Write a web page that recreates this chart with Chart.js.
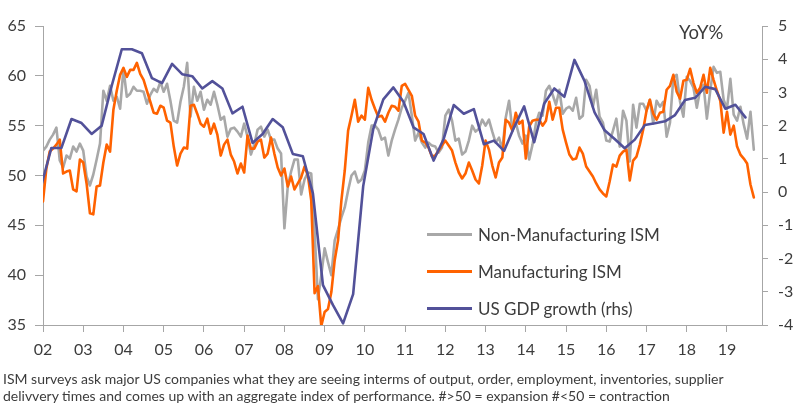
<!DOCTYPE html>
<html>
<head>
<meta charset="utf-8">
<script src="https://cdn.jsdelivr.net/npm/chart.js@4.4.0/dist/chart.umd.min.js"></script>
<style>
  html, body { margin: 0; padding: 0; background: #fff; }
  #wrap { position: relative; width: 800px; height: 414px; font-family: Lato, "Noto Sans", sans-serif; color: #3c3c3c; }
  #chart { position: absolute; left: 0; top: 0; }
  .leg { position: absolute; left: 427px; height: 24px; display: flex; align-items: center; font-size: 17px; white-space: nowrap; }
  .leg span.sw { display: inline-block; width: 45px; height: 3px; margin-right: 6px; }
  #yoy { position: absolute; left: 679px; top: 21px; font-size: 18.5px; }
  #note { position: absolute; left: 3px; top: 370px; font-size: 14px; line-height: 17px; white-space: nowrap; }
</style>
</head>
<body>
<div id="wrap">
  <canvas id="chart" width="800" height="414"></canvas>
  <div id="yoy">YoY%</div>
  <div class="leg" style="top:222px"><span class="sw" style="background:#a8a8a8"></span>Non-Manufacturing ISM</div>
  <div class="leg" style="top:259px"><span class="sw" style="background:#ff6200"></span>Manufacturing ISM</div>
  <div class="leg" style="top:296px"><span class="sw" style="background:#525199"></span>US GDP growth (rhs)</div>
  <div id="note">ISM surveys ask major US companies what they are seeing interms of output, order, employment, inventories, supplier<br>delivvery times and comes up with an aggregate index of performance. #&gt;50 = expansion #&lt;50 = contraction</div>
</div>
<script>
// x axis labels, one per year
const yearTicks = ['02', '03', '04', '05', '06', '07', '08', '09', '10',
  '11', '12', '13', '14', '15', '16', '17', '18', '19'];

// monthly ISM readings, Jan 2002 .. Sep 2019
const ismStartYear = 2002;

const nonMfgIsm = [
  52.5, 52.9, 53.6, 54.1, 54.8, 51.5, 50.8, 52.0, 51.7, 52.9, 52.4, 53.2,
  52.5, 49.9, 49.0, 50.1, 51.6, 53.2, 58.5, 57.5, 59.0, 57.5, 57.9, 56.7,
  60.7, 57.9, 58.2, 58.9, 58.5, 58.5, 58.4, 57.2, 58.1, 58.7, 58.4, 59.4,
  58.4, 59.2, 57.5, 55.5, 55.3, 57.4, 58.9, 61.3, 55.9, 58.9, 57.5, 58.4,
  56.6, 57.6, 57.1, 58.4, 57.1, 55.6, 55.9, 53.9, 54.7, 54.8, 54.4, 53.9,
  55.2, 53.9, 52.1, 53.1, 54.6, 54.9, 53.9, 54.6, 53.6, 53.6, 52.7, 52.2,
  44.7, 48.9, 50.4, 51.6, 51.6, 48.1, 49.6, 50.3, 50.2, 44.4, 37.6, 40.0,
  42.7, 41.3, 40.0, 43.5, 44.6, 45.8, 46.8, 48.5, 50.0, 50.4, 49.3, 49.6,
  50.5, 53.3, 55.0, 55.0, 54.6, 53.6, 53.8, 52.0, 53.5, 54.6, 55.6, 56.8,
  57.5, 58.3, 56.0, 53.5, 54.3, 53.3, 52.8, 53.3, 53.0, 52.9, 52.3, 52.8,
  56.0, 56.6, 55.5, 53.5, 53.7, 52.1, 52.4, 53.5, 55.0, 54.4, 54.7, 55.6,
  55.0, 55.6, 54.4, 53.3, 53.8, 52.6, 55.8, 57.5, 54.5, 55.3, 54.0, 53.2,
  54.0, 51.6, 53.1, 55.2, 56.3, 56.0, 58.5, 59.0, 58.1, 57.1, 58.6, 56.2,
  56.7, 56.9, 56.5, 57.8, 55.7, 56.0, 59.6, 59.0, 56.9, 58.6, 55.9, 55.3,
  53.5, 53.4, 54.5, 55.7, 52.9, 56.5, 55.5, 51.4, 57.1, 54.8, 57.2, 57.2,
  56.5, 57.6, 55.2, 57.5, 56.9, 57.4, 53.9, 55.3, 59.8, 60.1, 57.4, 55.9,
  59.9, 59.5, 58.8, 56.8, 58.6, 59.1, 55.7, 58.5, 60.9, 60.3, 60.4, 57.6,
  56.7, 59.7, 56.1, 55.5, 56.9, 55.1, 53.7, 56.4, 52.6
];

const mfgIsm = [
  47.4, 50.7, 52.4, 52.7, 53.1, 53.6, 50.2, 50.4, 50.5, 48.6, 48.4, 51.6,
  51.3, 49.2, 46.2, 46.1, 48.9, 49.0, 51.3, 53.1, 52.4, 56.6, 58.5, 60.1,
  60.8, 59.9, 60.6, 60.6, 61.3, 60.2, 59.6, 58.5, 57.4, 56.3, 56.2, 57.0,
  56.8, 55.5, 55.3, 52.9, 51.0, 52.2, 52.8, 52.7, 57.0, 57.1, 56.2, 55.2,
  54.9, 55.7, 54.2, 55.2, 54.1, 52.0, 53.1, 53.6, 52.1, 51.4, 50.2, 51.2,
  50.3, 54.0, 52.7, 52.7, 53.4, 53.6, 51.8, 52.2, 53.8, 52.2, 50.8, 50.0,
  50.7, 48.9, 49.9, 48.6, 49.2, 49.8, 50.9, 50.0, 47.5, 38.2, 38.9, 34.9,
  36.3, 36.6, 38.3, 41.5, 43.5, 47.5, 50.5, 54.5, 56.0, 57.6, 55.4, 56.0,
  55.6, 58.8, 57.6, 56.7, 55.9, 56.0, 55.4, 56.3, 57.0, 56.9, 56.5, 59.0,
  59.2, 58.6, 58.0, 56.0, 55.4, 53.5, 53.3, 52.8, 51.9, 52.0, 52.5, 53.0,
  53.5, 53.0, 52.5, 51.3, 50.3, 49.7, 50.2, 51.3, 50.5, 49.6, 49.2, 51.0,
  53.5, 52.6, 51.0, 49.8, 51.3, 51.8, 55.6, 55.3, 54.5, 56.3, 55.2, 55.5,
  51.7, 54.9, 55.5, 55.6, 55.6, 55.0, 55.5, 57.4, 55.6, 56.8, 56.8, 54.6,
  53.3, 52.1, 51.6, 51.7, 52.8, 52.2, 50.9, 50.4, 49.9, 49.2, 48.6, 48.2,
  47.9, 49.4, 51.1, 50.9, 52.0, 52.4, 52.6, 49.5, 51.5, 51.9, 53.1, 54.6,
  56.5, 57.6, 56.2, 55.6, 56.3, 56.4, 58.6, 59.0, 60.1, 58.4, 57.7, 59.5,
  59.6, 60.7, 59.3, 58.3, 58.8, 60.1, 58.3, 60.8, 59.6, 58.5, 57.5, 54.3,
  56.4, 54.1, 55.0, 52.9, 52.1, 51.7, 51.2, 49.1, 47.8
];

// quarterly GDP growth YoY %, Q4 2001 .. Q2 2019
const gdpStartYear = 2001;
const gdpStartQuarter = 4;
const gdpYoy = [
  0.2,
  1.33, 1.33, 2.2, 2.08,
  1.75, 2.0, 3.2, 4.3,
  4.3, 4.18, 3.43, 3.28,
  3.86, 3.55, 3.49, 3.12,
  3.34, 3.12, 2.37, 2.57,
  1.48, 1.75, 2.2, 1.95,
  1.15, 1.08, -0.04, -2.8,
  -3.4, -3.95, -3.07, 0.18,
  1.9, 2.79, 3.15, 2.72,
  1.95, 1.75, 0.95, 1.6,
  2.62, 2.36, 2.5, 1.44,
  1.55, 1.24, 1.95, 2.58,
  1.5, 2.67, 3.12, 2.87,
  3.98, 3.35, 2.4, 1.86,
  1.6, 1.32, 1.58, 2.02,
  2.07, 2.13, 2.32, 2.77,
  2.84, 3.17, 3.1, 2.51,
  2.63, 2.25
];

const axisColor = '#a6a6a6';
const labelColor = '#3c3c3c';
const tickFont = { family: 'Lato, "Noto Sans", sans-serif', size: 16 };

// months sit at the start of their month, quarters near quarter end
function monthly(values) {
  return values.map((v, i) => ({ x: ismStartYear + i / 12, y: v }));
}
function quarterly(values) {
  return values.map((v, i) => {
    const q = gdpStartQuarter - 1 + i;
    const year = gdpStartYear + Math.floor(q / 4);
    return { x: year + (3 * (q % 4 + 1) - 0.5) / 12, y: v };
  });
}

const config = {
  type: 'line',
  data: {
    datasets: [{
      label: 'Non-Manufacturing ISM',
      data: monthly(nonMfgIsm),
      borderColor: '#a8a8a8',
      yAxisID: 'y',
      order: 3
    }, {
      label: 'Manufacturing ISM',
      data: monthly(mfgIsm),
      borderColor: '#ff6200',
      yAxisID: 'y',
      order: 2
    }, {
      label: 'US GDP growth (rhs)',
      data: quarterly(gdpYoy),
      borderColor: '#525199',
      yAxisID: 'y1',
      order: 1
    }]
  },
  options: {
    responsive: false,
    animation: false,
    layout: { padding: { top: 26, left: 0, right: 0, bottom: 0 } },
    elements: {
      point: { radius: 0 },
      line: { borderWidth: 2.6, tension: 0, borderJoinStyle: 'round', borderCapStyle: 'round' }
    },
    plugins: {
      legend: { display: false },
      tooltip: { enabled: false }
    },
    scales: {
      x: {
        type: 'linear',
        min: 2002,
        max: 2019.87,
        afterBuildTicks: s => { s.ticks = yearTicks.map(t => ({ value: 2000 + Number(t) })); },
        afterFit: s => { s.height = 89; },
        ticks: {
          callback: (v, i) => yearTicks[i],
          autoSkip: false,
          maxRotation: 0,
          padding: 8,
          color: labelColor,
          font: tickFont
        },
        grid: { drawOnChartArea: false, color: axisColor, tickLength: 7 },
        border: { color: axisColor }
      },
      y: {
        position: 'left',
        min: 35,
        max: 65,
        afterFit: s => { s.width = 43; },
        ticks: { stepSize: 5, padding: 9, color: labelColor, font: tickFont },
        grid: { drawOnChartArea: false, color: axisColor, tickLength: 8 },
        border: { color: axisColor }
      },
      y1: {
        position: 'right',
        min: -4,
        max: 5,
        afterFit: s => { s.width = 38; },
        ticks: { stepSize: 1, padding: 10, color: labelColor, font: tickFont },
        grid: { drawOnChartArea: false, color: axisColor, tickLength: 6 },
        border: { color: axisColor }
      }
    }
  }
};

const ismChart = new Chart(document.getElementById('chart'), config);
</script>
</body>
</html>
